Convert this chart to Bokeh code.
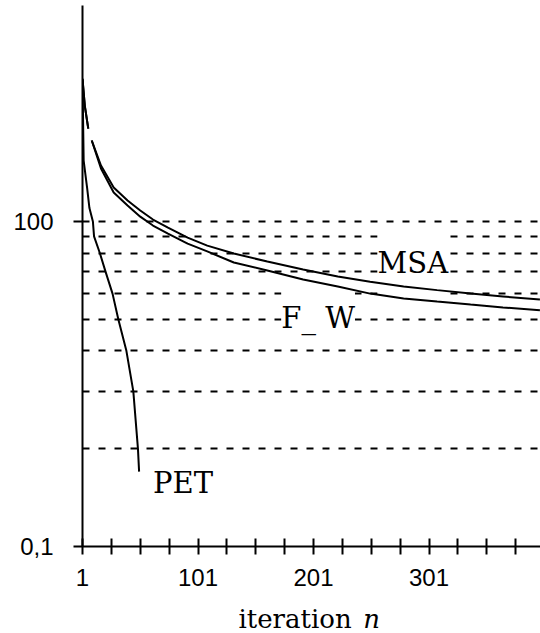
from bokeh.plotting import figure
from bokeh.models import FixedTicker, Label, Range1d
from bokeh.layouts import column
from bokeh.core.properties import value
from bokeh.embed import file_html
from bokeh.resources import INLINE

NaN = float("nan")

# ---- data ----
msa_iter = [1, 3, 6, 7, 9, 17, 28, 40, 51, 62, 75, 92, 109, 132, 161, 192, 222, 250, 279, 308, 337, 365, 397]
msa_val = [275, 227, 193, NaN, 177.5, 148.7, 127.3, 116.0, 108.1, 101.4, 95.8, 89.2, 84.3, 79.7, 75.3,
           71.2, 67.7, 65.3, 63.1, 61.5, 60.0, 58.8, 57.5]

fw_iter = [1, 3, 6, 7, 9, 17, 28, 40, 51, 62, 75, 92, 109, 132, 161, 192, 222, 250, 279, 308, 337, 365, 397]
fw_val = [275, 227, 193, NaN, 177.5, 145.6, 122.8, 112.0, 103.5, 97.2, 91.8, 85.5, 80.9, 74.8, 70.7,
          66.3, 63.1, 60.0, 58.0, 56.7, 55.5, 54.4, 53.3]

pet_iter = [1, 2, 5, 7, 10, 11, 16, 21, 27, 32, 39, 45, 49, 50]
pet_val = [273, 154, 127, 110, 100, 90, 80, 70, 60, 50, 40, 30, 20, 17]

grid_levels = [20, 30, 40, 50, 60, 70, 80, 90, 100]
x_major = [1, 101, 201, 301]
x_minor = [26, 51, 76, 126, 151, 176, 226, 251, 276, 326, 351, 376]
y_major = [10, 100]
y_labels = {10: "0,1", 100: "100"}

p = figure(width=540, height=600, y_axis_type="log",
           x_range=(1, 397.5), y_range=(10, 462),
           output_backend="svg", toolbar_location=None,
           min_border_left=82, min_border_right=0, min_border_top=5, min_border_bottom=54)
p.outline_line_color = None
p.background_fill_color = "white"
p.border_fill_color = "white"

# grid: dashed horizontal lines
p.xgrid.visible = False
p.ygrid.ticker = FixedTicker(ticks=grid_levels)
p.ygrid.grid_line_color = "black"
p.ygrid.grid_line_width = 2
p.ygrid.grid_line_dash = "7 9"
p.ygrid.minor_grid_line_color = None

# x axis
xa = p.xaxis[0]
xa.ticker = FixedTicker(ticks=x_major, minor_ticks=x_minor)
xa.axis_line_width = 2
xa.axis_line_color = "black"
xa.major_tick_in = 8
xa.major_tick_out = 8
xa.minor_tick_in = 8
xa.minor_tick_out = 8
xa.major_tick_line_width = 2
xa.minor_tick_line_width = 2
xa.major_tick_line_color = "black"
xa.minor_tick_line_color = "black"
xa.major_label_text_font = "Liberation Sans"
xa.major_label_text_font_size = "24px"
xa.major_label_text_color = "black"
xa.major_label_standoff = 14

# y axis
ya = p.yaxis[0]
ya.ticker = FixedTicker(ticks=y_major, minor_ticks=[])
ya.major_label_overrides = y_labels
ya.axis_line_width = 2
ya.axis_line_color = "black"
ya.major_tick_in = 0
ya.major_tick_out = 9
ya.minor_tick_line_color = None
ya.major_tick_line_width = 2
ya.major_tick_line_color = "black"
ya.major_label_text_font = "Liberation Sans"
ya.major_label_text_font_size = "24px"
ya.major_label_text_color = "black"
ya.major_label_standoff = 20

# curves
p.line(msa_iter, msa_val, line_color="black", line_width=2)
p.line(fw_iter, fw_val, line_color="black", line_width=2)
p.line(pet_iter, pet_val, line_color="black", line_width=2)

# series labels
lab_font = "DejaVu Serif"
msa_lab = Label(x=287, y=74.3, text="MSA", text_font=lab_font, text_font_size="29px",
                text_align="center", text_baseline="alphabetic", text_color="black",
                background_fill_color="white", padding=(0, 20), level="underlay")
fw_lab = Label(x=205, y=50.3, text="F_ W", text_font=lab_font, text_font_size="29px",
               text_align="center", text_baseline="alphabetic", text_color="black",
               background_fill_color="white", padding=(0, 11), level="underlay")
pet_lab = Label(x=88, y=15.7, text="PET", text_font=lab_font, text_font_size="29px",
                text_align="center", text_baseline="alphabetic", text_color="black")
for lb in (msa_lab, fw_lab, pet_lab):
    p.add_layout(lb)

# x-axis title strip: "iteration n" (n in italic)
p2 = figure(width=540, height=33, x_range=p.x_range, y_range=Range1d(0, 33),
            output_backend="svg", toolbar_location=None,
            x_axis_location=None, y_axis_location=None,
            min_border_left=82, min_border_right=0, min_border_top=0, min_border_bottom=0)
p2.outline_line_color = None
p2.xgrid.visible = False
p2.ygrid.visible = False
p2.text(x=[136], y=[15], text=["iteration"], text_font=value(lab_font), text_font_size=value("26px"),
        text_align="left", text_baseline="alphabetic", text_color="black")
p2.text(x=[244], y=[15], text=["n"], text_font=value(lab_font), text_font_size=value("26px"),
        text_font_style="italic", text_align="left", text_baseline="alphabetic", text_color="black")

layout = column(p, p2, spacing=0)
open("out.html", "w").write(file_html(layout, INLINE))
